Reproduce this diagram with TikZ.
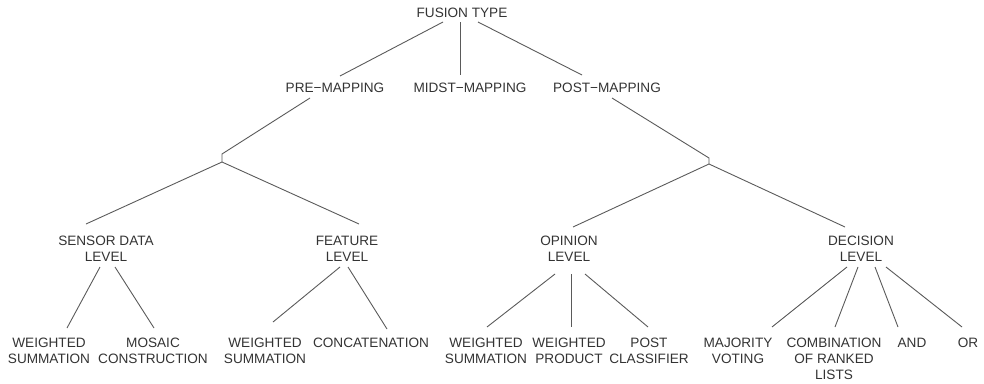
\documentclass[tikz,border=0pt]{standalone}
\usepackage{fontspec}
\setmainfont{Liberation Sans}
\usetikzlibrary{calc}
\definecolor{txt}{HTML}{333333}
\definecolor{edge}{HTML}{5A5A5A}
\begin{document}
\begin{tikzpicture}[x=1pt,y=-1pt,
  lbl/.style={align=center,inner sep=0pt,text=txt,font=\fontsize{13.6}{16}\selectfont},
  link/.style={draw=edge,line width=0.9pt}]
\useasboundingbox (0,0) rectangle (984,383);
% level 0 and 1
\node[lbl] (fusion) at (462,13) {FUSION TYPE};
\node[lbl] (pre)    at (335,88) {PRE−MAPPING};
\node[lbl] (midst)  at (470,88) {MIDST−MAPPING};
\node[lbl] (post)   at (607,88) {POST−MAPPING};
% level 2
\node[lbl] (sensor)   at (106,249) {SENSOR DATA\\LEVEL};
\node[lbl] (feature)  at (347,249) {FEATURE\\LEVEL};
\node[lbl] (opinion)  at (569,249) {OPINION\\LEVEL};
\node[lbl] (decision) at (861,249) {DECISION\\LEVEL};
% leaves
\node[lbl] (ws1)    at (49,351)  {WEIGHTED\\SUMMATION};
\node[lbl] (mosaic) at (153,351) {MOSAIC\\CONSTRUCTION};
\node[lbl] (ws2)    at (265,351) {WEIGHTED\\SUMMATION};
\node[lbl] (concat) at (371,343) {CONCATENATION};
\node[lbl] (ws3)    at (486,351) {WEIGHTED\\SUMMATION};
\node[lbl] (wp)     at (569,351) {WEIGHTED\\PRODUCT};
\node[lbl] (pc)     at (649,351) {POST\\CLASSIFIER};
\node[lbl] (mv)     at (738,351) {MAJORITY\\VOTING};
\node[lbl] (comb)   at (834,359) {COMBINATION\\OF RANKED\\LISTS};
\node[lbl] (and)    at (912,343) {AND};
\node[lbl] (or)     at (968,343) {OR};
% junction points
\coordinate (j1a) at (222,154);
\coordinate (j1b) at (222,162);
\coordinate (j2a) at (709,158);
\coordinate (j2b) at (709,164);
% connectors from the root
\draw[link] ($(fusion)+(-19,9)$) -- ($(pre)+(5,-12)$);
\draw[link] ($(fusion)+(-2,9)$) -- ($(midst)+(-10,-13)$);
\draw[link] ($(fusion)+(16,9)$) -- ($(post)+(-25,-13)$);
% pre-mapping branch
\draw[link] ($(pre)+(-25,10)$) -- (j1a) -- (j1b);
\draw[link] (j1b) -- ($(sensor)+(-20,-25)$);
\draw[link] (j1b) -- ($(feature)+(12,-25)$);
% post-mapping branch
\draw[link] ($(post)+(5,10)$) -- (j2a) -- (j2b);
\draw[link] (j2b) -- ($(opinion)+(4,-22)$);
\draw[link] (j2b) -- ($(decision)+(-16,-22)$);
% leaves of sensor data level and feature level
\draw[link] ($(sensor)+(-6,18)$) -- ($(ws1)+(18,-23)$);
\draw[link] ($(sensor)+(9,18)$) -- ($(mosaic)+(1,-23)$);
\draw[link] ($(feature)+(-7,18)$) -- ($(ws2)+(8,-29)$);
\draw[link] ($(feature)+(1,18)$) -- ($(concat)+(16,-14)$);
% leaves of opinion level
\draw[link] ($(opinion)+(-14,25)$) -- ($(ws3)+(1,-24)$);
\draw[link] ($(opinion)+(2,25)$) -- ($(wp)+(2,-24)$);
\draw[link] ($(opinion)+(16,25)$) -- ($(pc)+(-1,-24)$);
% leaves of decision level
\draw[link] ($(decision)+(-14,18)$) -- ($(mv)+(34,-24)$);
\draw[link] ($(decision)+(-3,18)$) -- ($(comb)+(1,-32)$);
\draw[link] ($(decision)+(14,18)$) -- ($(and)+(-14,-16)$);
\draw[link] ($(decision)+(25,18)$) -- ($(or)+(-6,-16)$);
\end{tikzpicture}
\end{document}
